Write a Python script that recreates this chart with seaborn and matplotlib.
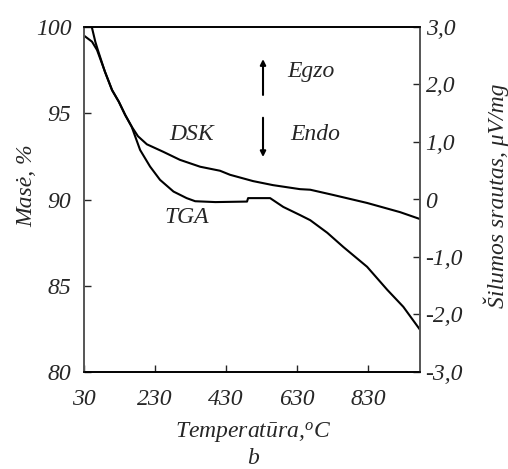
import matplotlib
matplotlib.use("Agg")
import matplotlib.pyplot as plt
import seaborn as sns
import pandas as pd

# TGA (mass, %) — left axis
tga_temp = [30, 52.5, 66.6, 89, 109, 128, 146, 164, 188, 216, 244, 282, 319, 343, 400, 489, 492, 554,
            591, 638, 667, 715, 760, 827, 884, 929, 976]
tga_mass = [99.5, 99.15, 98.67, 97.41, 96.35, 95.67, 94.9, 94.23, 92.87, 91.91, 91.14, 90.46, 90.08,
            89.9, 89.85, 89.88, 90.08, 90.08, 89.57, 89.1, 88.8, 88.07, 87.25, 86.1, 84.76, 83.78, 82.45]

# DSK (heat flow, uV/mg) — right axis
dsk_temp = [50, 62, 69, 89, 109, 128, 146, 164, 182, 207, 253, 300, 357, 413, 441, 506, 562, 638, 667,
            731, 827, 920, 976]
dsk_flow = [3.05, 2.74, 2.6, 2.22, 1.9, 1.70, 1.47, 1.27, 1.10, 0.96, 0.83, 0.69, 0.57, 0.50, 0.43,
            0.32, 0.25, 0.18, 0.17, 0.08, -0.06, -0.22, -0.34]

x_ticks = [30, 230, 430, 630, 830]
left_ticks = [80, 85, 90, 95, 100]
right_ticks = [-3, -2, -1, 0, 1, 2, 3]
right_labels = ["-3,0", "-2,0", "-1,0", "0", "1,0", "2,0", "3,0"]

sns.set_style("white")
plt.rcParams["font.family"] = ["Liberation Serif", "DejaVu Serif"]
plt.rcParams["mathtext.fontset"] = "custom"
plt.rcParams["mathtext.it"] = "Liberation Serif:italic"
plt.rcParams["mathtext.rm"] = "Liberation Serif:italic"

W, H = 508, 469
fig = plt.figure(figsize=(W / 100, H / 100), dpi=100)
ax = fig.add_axes([84 / W, (H - 372) / H, 336 / W, 345 / H])
ax2 = ax.twinx()

tga = pd.DataFrame({"T": tga_temp, "m": tga_mass})
dsk = pd.DataFrame({"T": dsk_temp, "h": dsk_flow})

sns.lineplot(data=tga, x="T", y="m", ax=ax, color="black", lw=1.5, sort=False)
sns.lineplot(data=dsk, x="T", y="h", ax=ax2, color="black", lw=1.5, sort=False)

fs = 17
ax.set_xlim(30, 976)
ax.set_ylim(80, 100)
ax2.set_ylim(-3, 3)

ax.set_xticks(x_ticks)
ax.set_xticklabels([str(t) for t in x_ticks], fontsize=fs, style="italic")
ax.set_yticks(left_ticks)
ax.set_yticklabels([str(t) for t in left_ticks], fontsize=fs, style="italic")
ax2.set_yticks(right_ticks)
ax2.set_yticklabels(right_labels, fontsize=fs, style="italic")

ax.tick_params(axis="x", direction="in", length=5, width=1, pad=12, bottom=True, top=False)
ax.tick_params(axis="y", direction="in", length=5, width=1, pad=9, left=True, right=False)
ax2.tick_params(axis="y", direction="in", length=5, width=1, pad=4, right=True, left=False)

for a in (ax, ax2):
    for s in a.spines.values():
        s.set_color("black")
        s.set_linewidth(1.2)
    a.spines["left"].set_color("#555555")
    a.spines["right"].set_color("#555555")

ax.set_xlabel("")
ax.set_ylabel("Masė, %", fontsize=fs, style="italic")
ax.yaxis.set_label_coords(-0.14, 0.539)
ax2.set_ylabel("Šilumos srautas, μV/mg", fontsize=fs, style="italic")
ax2.yaxis.set_label_coords(1.19, 0.51)

fig.text(253 / W, 1 - 432 / H, "Temperatūra,$^{\\mathrm{o}}$C", fontsize=fs, style="italic",
         ha="center", va="center")
fig.text(253 / W, 1 - 458 / H, "b", fontsize=fs, style="italic", ha="center", va="center")

ax.text(334, 93.74, "DSK", fontsize=fs, style="italic", ha="center", va="center")
ax.text(320, 88.93, "TGA", fontsize=fs, style="italic", ha="center", va="center")
ax.text(602, 97.4, "Egzo", fontsize=fs, style="italic", ha="left", va="center")
ax.text(610, 93.74, "Endo", fontsize=fs, style="italic", ha="left", va="center")
ax.annotate("", xy=(534, 98.3), xytext=(534, 95.9),
            arrowprops=dict(arrowstyle="-|>", color="black", lw=1.5, mutation_scale=8))
ax.annotate("", xy=(534, 92.3), xytext=(534, 94.9),
            arrowprops=dict(arrowstyle="-|>", color="black", lw=1.5, mutation_scale=8))

fig.savefig("out.png", dpi=100)
